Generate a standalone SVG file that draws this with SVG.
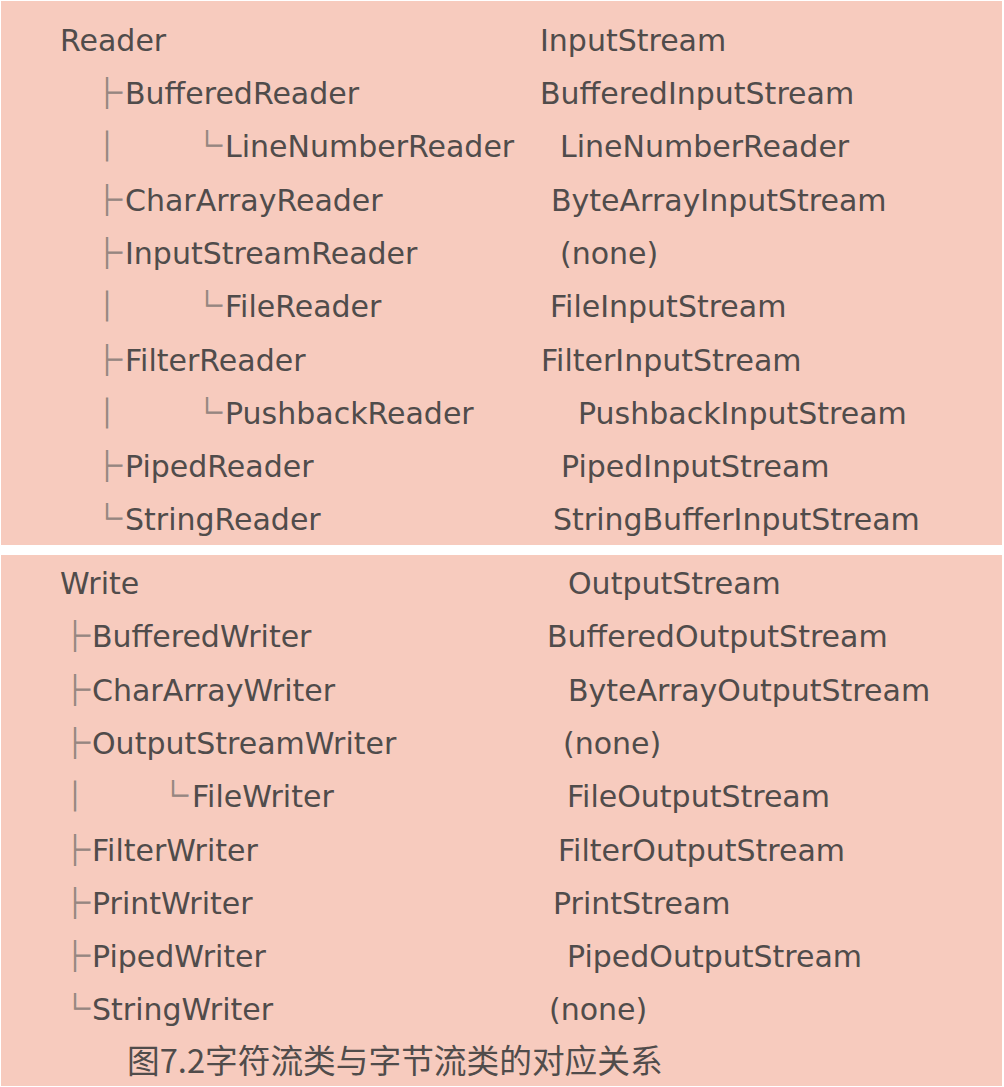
<svg xmlns="http://www.w3.org/2000/svg" width="1004" height="1087" viewBox="0 0 1004 1087">
<style>
.bg{fill:#f7cbbe}
.n{font-family:"DejaVu Sans","Noto Sans",sans-serif;font-size:30px;fill:#504c4b}
.t{font-family:"Noto Sans CJK SC",sans-serif;font-size:30px;fill:#968681;stroke:#968681;stroke-width:0.9px}
.cap{font-family:"Noto Sans CJK SC",sans-serif;font-size:32.7px;fill:#504c4b}
</style>
<rect width="1004" height="1087" fill="#ffffff"/>
<g id="panel-reader">
<rect class="bg" x="1" y="1" width="1001" height="544"/>
</g>
<g id="panel-writer">
<rect class="bg" x="1" y="555" width="1001" height="531"/>
</g>
<g id="connectors">
<text class="t" x="92" y="104">├</text>
<text class="t" x="92" y="157">│</text>
<text class="t" x="192" y="157">└</text>
<text class="t" x="92" y="211">├</text>
<text class="t" x="92" y="264">├</text>
<text class="t" x="92" y="317">│</text>
<text class="t" x="192" y="317">└</text>
<text class="t" x="92" y="371">├</text>
<text class="t" x="92" y="424">│</text>
<text class="t" x="192" y="424">└</text>
<text class="t" x="92" y="477">├</text>
<text class="t" x="92" y="530">└</text>
<text class="t" x="60" y="647">├</text>
<text class="t" x="60" y="701">├</text>
<text class="t" x="60" y="754">├</text>
<text class="t" x="60" y="807">│</text>
<text class="t" x="158" y="807">└</text>
<text class="t" x="60" y="861">├</text>
<text class="t" x="60" y="914">├</text>
<text class="t" x="60" y="967">├</text>
<text class="t" x="60" y="1020">└</text>
</g>
<g id="reader-tree">
<text class="n" x="60" y="51">Reader</text>
<text class="n" x="125" y="104">BufferedReader</text>
<text class="n" x="225" y="157">LineNumberReader</text>
<text class="n" x="125" y="211">CharArrayReader</text>
<text class="n" x="125" y="264">InputStreamReader</text>
<text class="n" x="225" y="317">FileReader</text>
<text class="n" x="125" y="371">FilterReader</text>
<text class="n" x="225" y="424">PushbackReader</text>
<text class="n" x="125" y="477">PipedReader</text>
<text class="n" x="125" y="530">StringReader</text>
</g>
<g id="inputstream-tree">
<text class="n" x="540" y="51">InputStream</text>
<text class="n" x="540" y="104">BufferedInputStream</text>
<text class="n" x="560" y="157">LineNumberReader</text>
<text class="n" x="551" y="211">ByteArrayInputStream</text>
<text class="n" x="560" y="264">(none)</text>
<text class="n" x="550" y="317">FileInputStream</text>
<text class="n" x="541" y="371">FilterInputStream</text>
<text class="n" x="578" y="424">PushbackInputStream</text>
<text class="n" x="561" y="477">PipedInputStream</text>
<text class="n" x="553" y="530">StringBufferInputStream</text>
</g>
<g id="writer-tree">
<text class="n" x="60" y="594">Write</text>
<text class="n" x="92" y="647">BufferedWriter</text>
<text class="n" x="92" y="701">CharArrayWriter</text>
<text class="n" x="92" y="754">OutputStreamWriter</text>
<text class="n" x="192" y="807">FileWriter</text>
<text class="n" x="92" y="861">FilterWriter</text>
<text class="n" x="92" y="914">PrintWriter</text>
<text class="n" x="92" y="967">PipedWriter</text>
<text class="n" x="92" y="1020">StringWriter</text>
</g>
<g id="outputstream-tree">
<text class="n" x="568" y="594">OutputStream</text>
<text class="n" x="547" y="647">BufferedOutputStream</text>
<text class="n" x="568" y="701">ByteArrayOutputStream</text>
<text class="n" x="563" y="754">(none)</text>
<text class="n" x="567" y="807">FileOutputStream</text>
<text class="n" x="558" y="861">FilterOutputStream</text>
<text class="n" x="553" y="914">PrintStream</text>
<text class="n" x="567" y="967">PipedOutputStream</text>
<text class="n" x="549" y="1020">(none)</text>
</g>
<g id="caption">
<text class="cap" x="127" y="1073">图7.2字符流类与字节流类的对应关系</text>
</g>
</svg>
